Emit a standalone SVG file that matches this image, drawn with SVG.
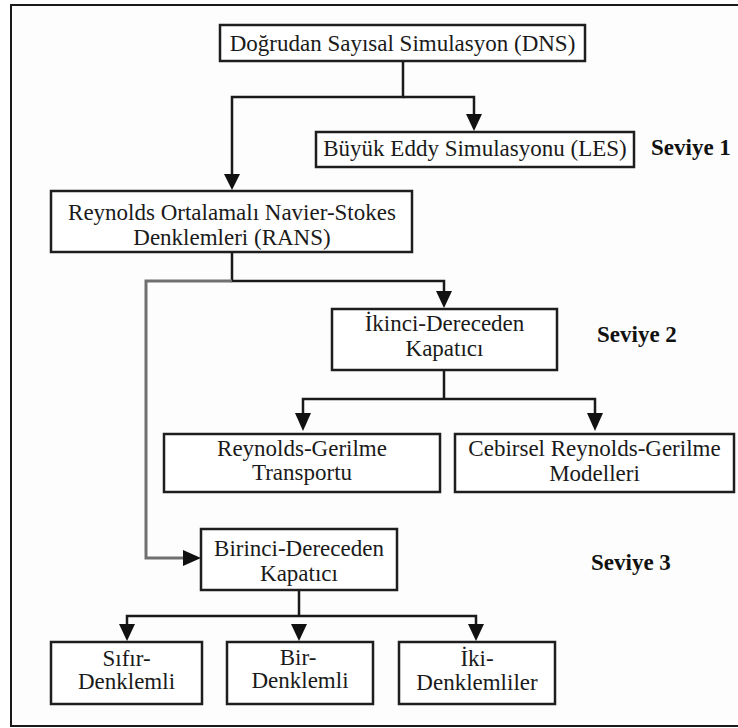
<svg xmlns="http://www.w3.org/2000/svg" width="738" height="728" viewBox="0 0 738 728">
<defs>
<style>
.box{fill:#fff;stroke:#1e1e1e;stroke-width:2.5}
.t{font-family:"Liberation Serif","Times New Roman",serif;font-size:23px;fill:#1a1a1a;text-anchor:middle}
.lvl{font-family:"Liberation Serif","Times New Roman",serif;font-size:23px;font-weight:bold;fill:#111}
.c{fill:none;stroke:#1a1a1a;stroke-width:2.5}
.g{fill:none;stroke:#707070;stroke-width:3}
.ah{fill:#111}
</style>
</defs>
<rect x="0" y="0" width="738" height="728" fill="#fff"/>
<rect x="11" y="5" width="735" height="721" fill="#fdfdfd" stroke="#1a1a1a" stroke-width="2"/>

<g id="connectors">
<path class="c" d="M403 61 V97 H232 V175"/>
<path class="c" d="M403 97 H474 V115" stroke="#444"/>
<polygon class="ah" points="224,174 240,174 232,190"/>
<polygon class="ah" points="466,114 482,114 474,131"/>
<path class="c" d="M232 252 V281 H444 V292"/>
<polygon class="ah" points="436,291 452,291 444,308"/>
<path class="g" d="M232 281 H146 V558 H184"/>
<polygon class="ah" points="183,550 183,566 201,558"/>
<path class="c" d="M444 370 V399"/>
<path class="c" d="M303 413 V399 H595 V413"/>
<polygon class="ah" points="295,413 311,413 303,431"/>
<polygon class="ah" points="587,413 603,413 595,431"/>
<path class="c" d="M299 590 V616"/>
<path class="c" d="M127 625 V616 H476 V625"/>
<polygon class="ah" points="119,624 135,624 127,641"/>
<polygon class="ah" points="291,624 307,624 299,641"/>
<polygon class="ah" points="468,624 484,624 476,641"/>
</g>

<g id="dns">
<rect class="box" x="220" y="25" width="365" height="36"/>
<text class="t" x="402.5" y="51">Doğrudan Sayısal Simulasyon (DNS)</text>
</g>
<g id="les">
<rect class="box" x="316" y="132" width="318" height="35"/>
<text class="t" x="475" y="156">Büyük Eddy Simulasyonu (LES)</text>
</g>
<g id="seviye1"><text class="lvl" x="651" y="155">Seviye 1</text></g>
<g id="rans">
<rect class="box" x="51" y="191" width="361" height="61"/>
<text class="t" x="232" y="220">Reynolds Ortalamalı Navier-Stokes</text>
<text class="t" x="232" y="245">Denklemleri (RANS)</text>
</g>
<g id="ikinci">
<rect class="box" x="332" y="309" width="225" height="61"/>
<text class="t" x="444.5" y="331">İkinci-Dereceden</text>
<text class="t" x="444.5" y="356">Kapatıcı</text>
</g>
<g id="seviye2"><text class="lvl" x="597" y="342">Seviye 2</text></g>
<g id="rst">
<rect class="box" x="164" y="434" width="276" height="58"/>
<text class="t" x="302" y="456">Reynolds-Gerilme</text>
<text class="t" x="302" y="480">Transportu</text>
</g>
<g id="cebirsel">
<rect class="box" x="455" y="434" width="279" height="58"/>
<text class="t" x="594.5" y="456">Cebirsel Reynolds-Gerilme</text>
<text class="t" x="594.5" y="481">Modelleri</text>
</g>
<g id="birinci">
<rect class="box" x="201" y="529" width="196" height="61"/>
<text class="t" x="299" y="556">Birinci-Dereceden</text>
<text class="t" x="299" y="581">Kapatıcı</text>
</g>
<g id="seviye3"><text class="lvl" x="591" y="570">Seviye 3</text></g>
<g id="sifir">
<rect class="box" x="51" y="642" width="151" height="62"/>
<text class="t" x="126.5" y="666">Sıfır-</text>
<text class="t" x="126.5" y="689">Denklemli</text>
</g>
<g id="bir">
<rect class="box" x="227" y="642" width="146" height="62"/>
<text class="t" x="298" y="665">Bir-</text>
<text class="t" x="300" y="688">Denklemli</text>
</g>
<g id="iki">
<rect class="box" x="399" y="642" width="156" height="62"/>
<text class="t" x="477" y="666">İki-</text>
<text class="t" x="477" y="690">Denklemliler</text>
</g>
</svg>
